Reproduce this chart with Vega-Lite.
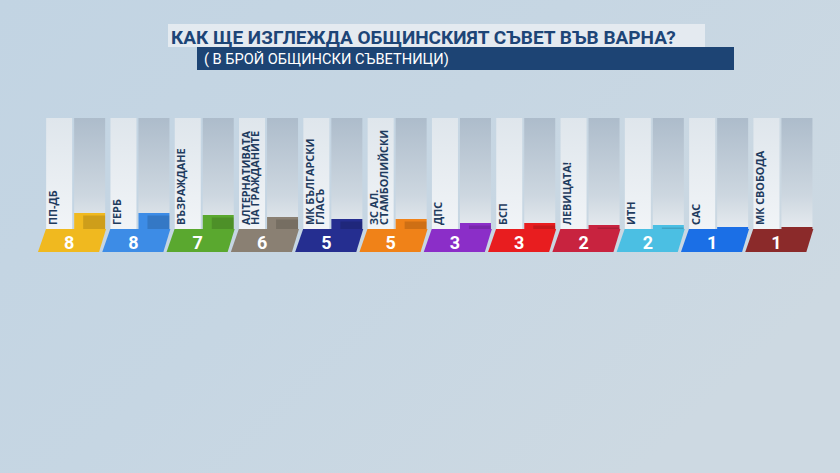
{
  "$schema": "https://vega.github.io/schema/vega-lite/v6.json",
  "width": 840,
  "height": 473,
  "padding": 0,
  "autosize": {"type": "none"},
  "background": "#c6d6e3",
  "view": {"stroke": null, "fill": {"expr": "{gradient: 'linear', x1: 0, y1: 0, x2: 1, y2: 0.6, stops: [{offset: 0, color: '#c2d4e3'}, {offset: 0.5, color: '#c6d6e3'}, {offset: 1, color: '#cdd9e2'}]}"}},
  "config": {"view": {"stroke": null}},
  "title": {
    "text": "КАК ЩЕ ИЗГЛЕЖДА ОБЩИНСКИЯТ СЪВЕТ ВЪВ ВАРНА?",
    "anchor": "start",
    "frame": "group",
    "dx": 171,
    "offset": -48,
    "font": "Roboto",
    "fontSize": 19,
    "fontWeight": "bold",
    "color": "#1d4577"
  },
  "datasets": {
    "seats": [
      {"party": "ПП-ДБ", "label": "ПП-ДБ", "seats": 8},
      {"party": "ГЕРБ", "label": "ГЕРБ", "seats": 8},
      {"party": "ВЪЗРАЖДАНЕ", "label": "ВЪЗРАЖДАНЕ", "seats": 7},
      {"party": "АЛТЕРНАТИВАТА НА ГРАЖДАНИТЕ", "label": "АЛТЕРНАТИВАТА\nНА ГРАЖДАНИТЕ", "seats": 6},
      {"party": "МК БЪЛГАРСКИ ГЛАСЪ", "label": "МК БЪЛГАРСКИ\nГЛАСЪ", "seats": 5},
      {"party": "ЗС АЛ. СТАМБОЛИЙСКИ", "label": "ЗС АЛ.\nСТАМБОЛИЙСКИ", "seats": 5},
      {"party": "ДПС", "label": "ДПС", "seats": 3},
      {"party": "БСП", "label": "БСП", "seats": 3},
      {"party": "ЛЕВИЦАТА!", "label": "ЛЕВИЦАТА!", "seats": 2},
      {"party": "ИТН", "label": "ИТН", "seats": 2},
      {"party": "САС", "label": "САС", "seats": 1},
      {"party": "МК СВОБОДА", "label": "МК СВОБОДА", "seats": 1}
    ]
  },
  "layer": [
    {
      "data": {"values": [{"box": "title"}]},
      "mark": {"type": "rect", "fill": "#e6ecf1", "opacity": 0.92},
      "encoding": {"x": {"value": 168}, "x2": {"value": 705}, "y": {"value": 24}, "y2": {"value": 47}}
    },
    {
      "data": {"values": [{"box": "subtitle"}]},
      "mark": {"type": "rect", "fill": "#1d4474"},
      "encoding": {"x": {"value": 197}, "x2": {"value": 734}, "y": {"value": 47}, "y2": {"value": 70}}
    },
    {
      "data": {"values": [{"text": "( В БРОЙ ОБЩИНСКИ СЪВЕТНИЦИ)"}]},
      "mark": {"type": "text", "align": "left", "baseline": "middle", "font": "Roboto", "fontSize": 14.6, "fill": "#ffffff"},
      "encoding": {"x": {"value": 204}, "y": {"value": 59.5}, "text": {"field": "text"}}
    },
    {
      "data": {"name": "seats"},
      "encoding": {
        "x": {"field": "party", "type": "nominal", "sort": null, "axis": null,
              "scale": {"domain": ["ПП-ДБ", "ГЕРБ", "ВЪЗРАЖДАНЕ", "АЛТЕРНАТИВАТА НА ГРАЖДАНИТЕ", "МК БЪЛГАРСКИ ГЛАСЪ", "ЗС АЛ. СТАМБОЛИЙСКИ", "ДПС", "БСП", "ЛЕВИЦАТА!", "ИТН", "САС", "МК СВОБОДА"],
                        "paddingInner": 0, "paddingOuter": 0.532, "align": 0.6725}}
      },
      "layer": [
        {
          "mark": {"type": "bar", "width": 26, "xOffset": -19, "fill": {"gradient": "linear", "x1": 0, "y1": 0, "x2": 0, "y2": 1, "stops": [{"offset": 0, "color": "#dfe6ec"}, {"offset": 1, "color": "#f1f4f7"}]}},
          "encoding": {
            "y": {"datum": 55.5, "type": "quantitative", "axis": null, "scale": {"domain": [-122, 114.5], "nice": false, "zero": false}},
            "y2": {"datum": 0}
          }
        },
        {
          "mark": {"type": "bar", "width": 31, "xOffset": 11.5, "fill": {"gradient": "linear", "x1": 0, "y1": 0, "x2": 0, "y2": 1, "stops": [{"offset": 0, "color": "#adbccb"}, {"offset": 0.7, "color": "#cdd7e0"}, {"offset": 1, "color": "#e6ebef"}]}},
          "encoding": {
            "y": {"datum": 55.5, "type": "quantitative"},
            "y2": {"datum": 0}
          }
        },
        {
          "mark": {"type": "bar", "width": 31, "xOffset": 11.5},
          "encoding": {
            "y": {"field": "seats", "type": "quantitative"},
            "y2": {"datum": 0},
            "color": {"field": "party", "type": "nominal", "legend": null,
                      "scale": {"domain": ["ПП-ДБ", "ГЕРБ", "ВЪЗРАЖДАНЕ", "АЛТЕРНАТИВАТА НА ГРАЖДАНИТЕ", "МК БЪЛГАРСКИ ГЛАСЪ", "ЗС АЛ. СТАМБОЛИЙСКИ", "ДПС", "БСП", "ЛЕВИЦАТА!", "ИТН", "САС", "МК СВОБОДА"],
                                "range": ["#f0b91f", "#3d8ce6", "#5aa82f", "#8a8073", "#252e90", "#f08218", "#8b2ec8", "#e81d1f", "#c8233f", "#4bbfe3", "#1b6fe6", "#8b2a2a"]}}
          }
        },
        {
          "mark": {"type": "bar", "width": 22, "xOffset": 16, "yOffset": 2.5, "fill": "#000000", "opacity": 0.14},
          "encoding": {
            "y": {"field": "seats", "type": "quantitative"},
            "y2": {"datum": 0}
          }
        },
        {
          "mark": {"type": "point", "shape": "M-32.2,-11.5L27.9,-11.5L20.9,11.5L-40.2,11.5Z", "size": 4, "filled": true, "opacity": 1, "strokeWidth": 0},
          "encoding": {
            "y": {"datum": -5.75, "type": "quantitative"},
            "color": {"field": "party", "type": "nominal", "legend": null}
          }
        },
        {
          "mark": {"type": "text", "xOffset": -9, "baseline": "middle", "align": "center", "font": "Roboto", "fontSize": 18, "fontWeight": "bold", "fill": "#ffffff"},
          "encoding": {
            "y": {"datum": -7.25, "type": "quantitative"},
            "text": {"field": "seats", "type": "quantitative"}
          }
        },
        {
          "mark": {"type": "text", "angle": 270, "align": "left", "baseline": "top", "xOffset": -30.5, "lineBreak": "\n", "lineHeight": 9.9, "font": "Open Sans", "fontSize": 10.8, "fontWeight": "bold", "fill": "#1f3b5e"},
          "encoding": {
            "y": {"datum": 2, "type": "quantitative"},
            "text": {"field": "label"}
          }
        }
      ]
    }
  ],
  "resolve": {"scale": {"x": "shared", "y": "shared"}},
  "encoding": {}
}
